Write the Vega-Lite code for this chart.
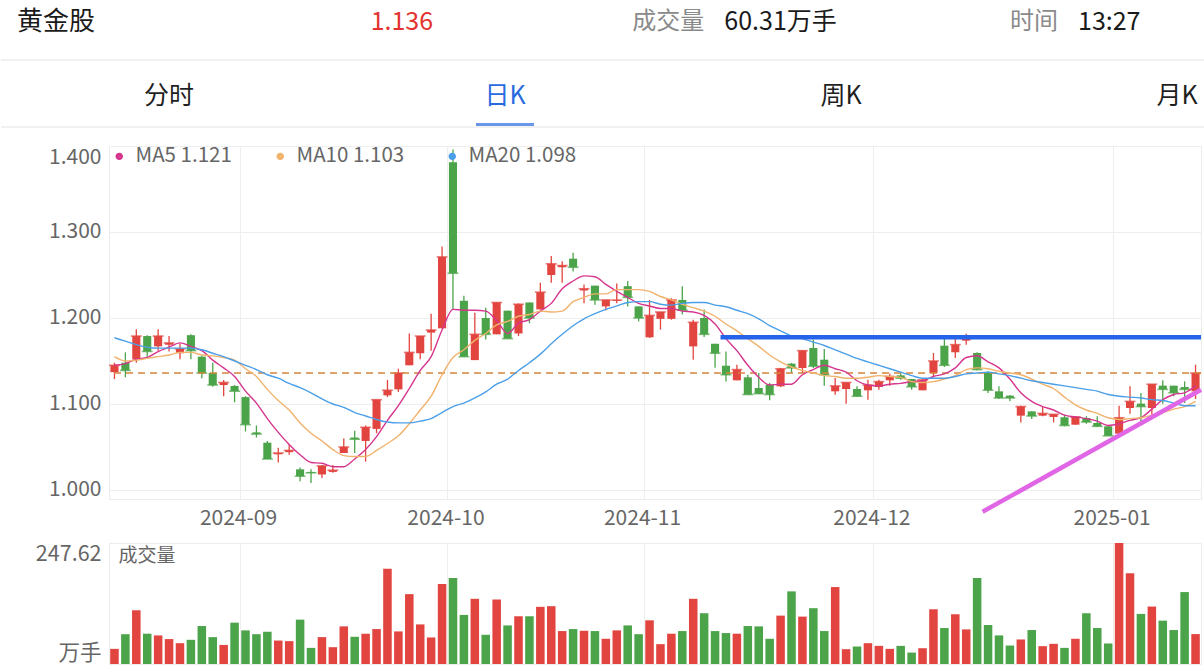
{
  "$schema": "https://vega.github.io/schema/vega-lite/v6.json",
  "padding": 0,
  "background": "white",
  "bounds": "flush",
  "spacing": 44,
  "config": {
    "font": "Noto Sans CJK SC",
    "view": {"stroke": "#ececec"}
  },
  "resolve": {"scale": {"x": "independent", "y": "independent", "color": "independent"}, "legend": {"color": "independent"}},
  "datasets": {
    "quote": [
      {"item": "name", "label": "", "value": "黄金股"},
      {"item": "price", "label": "", "value": "1.136"},
      {"item": "vol", "label": "成交量", "value": "60.31万手"},
      {"item": "time", "label": "时间", "value": "13:27"}
    ],
    "tabs": [{"tab": "分时"}, {"tab": "日K"}, {"tab": "周K"}, {"tab": "月K"}],
    "k": [
{"date":"2024-08-15","open":1.137,"high":1.148,"low":1.129,"close":1.145,"vol":31,"ma5":1.145,"ma10":1.155,"ma20":1.177},
{"date":"2024-08-16","open":1.148,"high":1.160,"low":1.131,"close":1.139,"vol":61,"ma5":1.147,"ma10":1.150,"ma20":1.173},
{"date":"2024-08-19","open":1.152,"high":1.187,"low":1.148,"close":1.179,"vol":110,"ma5":1.152,"ma10":1.151,"ma20":1.169},
{"date":"2024-08-20","open":1.179,"high":1.180,"low":1.155,"close":1.161,"vol":62,"ma5":1.154,"ma10":1.153,"ma20":1.166},
{"date":"2024-08-21","open":1.167,"high":1.187,"low":1.162,"close":1.179,"vol":58.5,"ma5":1.161,"ma10":1.155,"ma20":1.165},
{"date":"2024-08-22","open":1.169,"high":1.179,"low":1.161,"close":1.171,"vol":51,"ma5":1.166,"ma10":1.157,"ma20":1.165},
{"date":"2024-08-23","open":1.159,"high":1.170,"low":1.152,"close":1.164,"vol":42.6,"ma5":1.171,"ma10":1.160,"ma20":1.165},
{"date":"2024-08-26","open":1.180,"high":1.181,"low":1.152,"close":1.162,"vol":49.5,"ma5":1.167,"ma10":1.160,"ma20":1.165},
{"date":"2024-08-27","open":1.155,"high":1.156,"low":1.130,"close":1.136,"vol":77.7,"ma5":1.162,"ma10":1.157,"ma20":1.163},
{"date":"2024-08-28","open":1.136,"high":1.148,"low":1.120,"close":1.122,"vol":55,"ma5":1.151,"ma10":1.156,"ma20":1.159},
{"date":"2024-08-29","open":1.122,"high":1.128,"low":1.109,"close":1.125,"vol":39,"ma5":1.142,"ma10":1.154,"ma20":1.155},
{"date":"2024-08-30","open":1.121,"high":1.122,"low":1.102,"close":1.115,"vol":84.6,"ma5":1.132,"ma10":1.151,"ma20":1.150},
{"date":"2024-09-02","open":1.108,"high":1.109,"low":1.068,"close":1.076,"vol":68.8,"ma5":1.115,"ma10":1.141,"ma20":1.145},
{"date":"2024-09-03","open":1.067,"high":1.075,"low":1.061,"close":1.065,"vol":61,"ma5":1.101,"ma10":1.132,"ma20":1.140},
{"date":"2024-09-04","open":1.055,"high":1.057,"low":1.036,"close":1.036,"vol":66,"ma5":1.083,"ma10":1.117,"ma20":1.134},
{"date":"2024-09-05","open":1.0415,"high":1.049,"low":1.032,"close":1.043,"vol":48,"ma5":1.067,"ma10":1.104,"ma20":1.130},
{"date":"2024-09-06","open":1.044,"high":1.053,"low":1.041,"close":1.046,"vol":46.8,"ma5":1.053,"ma10":1.093,"ma20":1.124},
{"date":"2024-09-09","open":1.024,"high":1.026,"low":1.010,"close":1.016,"vol":90.8,"ma5":1.041,"ma10":1.078,"ma20":1.119},
{"date":"2024-09-10","open":1.021,"high":1.024,"low":1.008,"close":1.020,"vol":33,"ma5":1.032,"ma10":1.066,"ma20":1.113},
{"date":"2024-09-11","open":1.018,"high":1.029,"low":1.014,"close":1.028,"vol":55,"ma5":1.031,"ma10":1.057,"ma20":1.106},
{"date":"2024-09-12","open":1.021,"high":1.029,"low":1.020,"close":1.023,"vol":34.4,"ma5":1.027,"ma10":1.047,"ma20":1.100},
{"date":"2024-09-13","open":1.043,"high":1.060,"low":1.043,"close":1.050,"vol":77,"ma5":1.027,"ma10":1.040,"ma20":1.096},
{"date":"2024-09-18","open":1.061,"high":1.069,"low":1.043,"close":1.059,"vol":55.7,"ma5":1.036,"ma10":1.039,"ma20":1.090},
{"date":"2024-09-19","open":1.057,"high":1.075,"low":1.033,"close":1.073,"vol":62,"ma5":1.047,"ma10":1.039,"ma20":1.086},
{"date":"2024-09-20","open":1.071,"high":1.105,"low":1.066,"close":1.105,"vol":71.5,"ma5":1.062,"ma10":1.046,"ma20":1.082},
{"date":"2024-09-23","open":1.110,"high":1.128,"low":1.108,"close":1.116,"vol":194.7,"ma5":1.081,"ma10":1.054,"ma20":1.079},
{"date":"2024-09-24","open":1.117,"high":1.141,"low":1.114,"close":1.136,"vol":66.7,"ma5":1.098,"ma10":1.063,"ma20":1.078},
{"date":"2024-09-25","open":1.145,"high":1.182,"low":1.145,"close":1.160,"vol":143,"ma5":1.118,"ma10":1.077,"ma20":1.078},
{"date":"2024-09-26","open":1.159,"high":1.179,"low":1.152,"close":1.179,"vol":81,"ma5":1.139,"ma10":1.093,"ma20":1.080},
{"date":"2024-09-27","open":1.183,"high":1.205,"low":1.162,"close":1.186,"vol":54.3,"ma5":1.155,"ma10":1.109,"ma20":1.083},
{"date":"2024-09-30","open":1.188,"high":1.283,"low":1.188,"close":1.271,"vol":163.7,"ma5":1.186,"ma10":1.134,"ma20":1.090},
{"date":"2024-10-08","open":1.381,"high":1.396,"low":1.210,"close":1.252,"vol":176,"ma5":1.210,"ma10":1.154,"ma20":1.097},
{"date":"2024-10-09","open":1.220,"high":1.226,"low":1.155,"close":1.155,"vol":100.4,"ma5":1.209,"ma10":1.163,"ma20":1.101},
{"date":"2024-10-10","open":1.151,"high":1.206,"low":1.151,"close":1.181,"vol":133.4,"ma5":1.209,"ma10":1.174,"ma20":1.107},
{"date":"2024-10-11","open":1.200,"high":1.212,"low":1.175,"close":1.181,"vol":59.8,"ma5":1.208,"ma10":1.182,"ma20":1.114},
{"date":"2024-10-14","open":1.181,"high":1.218,"low":1.181,"close":1.218,"vol":132,"ma5":1.197,"ma10":1.192,"ma20":1.123},
{"date":"2024-10-15","open":1.2085,"high":1.2085,"low":1.176,"close":1.176,"vol":79,"ma5":1.182,"ma10":1.196,"ma20":1.129},
{"date":"2024-10-16","open":1.182,"high":1.217,"low":1.179,"close":1.216,"vol":97.7,"ma5":1.194,"ma10":1.202,"ma20":1.139},
{"date":"2024-10-17","open":1.218,"high":1.218,"low":1.194,"close":1.200,"vol":97.7,"ma5":1.198,"ma10":1.204,"ma20":1.148},
{"date":"2024-10-18","open":1.210,"high":1.241,"low":1.210,"close":1.230,"vol":117,"ma5":1.208,"ma10":1.208,"ma20":1.158},
{"date":"2024-10-21","open":1.250,"high":1.272,"low":1.241,"close":1.263,"vol":118.3,"ma5":1.217,"ma10":1.207,"ma20":1.170},
{"date":"2024-10-22","open":1.259,"high":1.266,"low":1.241,"close":1.261,"vol":67.4,"ma5":1.234,"ma10":1.208,"ma20":1.181},
{"date":"2024-10-23","open":1.269,"high":1.276,"low":1.254,"close":1.259,"vol":71.5,"ma5":1.243,"ma10":1.219,"ma20":1.191},
{"date":"2024-10-24","open":1.232,"high":1.239,"low":1.217,"close":1.234,"vol":68,"ma5":1.249,"ma10":1.224,"ma20":1.199},
{"date":"2024-10-25","open":1.2376,"high":1.2376,"low":1.2155,"close":1.221,"vol":67.4,"ma5":1.248,"ma10":1.228,"ma20":1.205},
{"date":"2024-10-28","open":1.2135,"high":1.2213,"low":1.2089,"close":1.221,"vol":51.6,"ma5":1.239,"ma10":1.228,"ma20":1.210},
{"date":"2024-10-29","open":1.220,"high":1.240,"low":1.217,"close":1.221,"vol":68.8,"ma5":1.231,"ma10":1.233,"ma20":1.214},
{"date":"2024-10-30","open":1.237,"high":1.243,"low":1.2135,"close":1.224,"vol":79,"ma5":1.224,"ma10":1.233,"ma20":1.218},
{"date":"2024-10-31","open":1.2135,"high":1.2135,"low":1.196,"close":1.200,"vol":61,"ma5":1.217,"ma10":1.233,"ma20":1.219},
{"date":"2024-11-01","open":1.1775,"high":1.221,"low":1.1767,"close":1.203,"vol":89.4,"ma5":1.214,"ma10":1.231,"ma20":1.219},
{"date":"2024-11-04","open":1.199,"high":1.207,"low":1.1864,"close":1.207,"vol":40.6,"ma5":1.211,"ma10":1.225,"ma20":1.216},
{"date":"2024-11-05","open":1.199,"high":1.223,"low":1.198,"close":1.221,"vol":62,"ma5":1.211,"ma10":1.221,"ma20":1.215},
{"date":"2024-11-06","open":1.221,"high":1.237,"low":1.204,"close":1.209,"vol":67.4,"ma5":1.208,"ma10":1.216,"ma20":1.217},
{"date":"2024-11-07","open":1.167,"high":1.198,"low":1.1515,"close":1.195,"vol":133.4,"ma5":1.207,"ma10":1.212,"ma20":1.218},
{"date":"2024-11-08","open":1.200,"high":1.210,"low":1.178,"close":1.181,"vol":103.9,"ma5":1.203,"ma10":1.208,"ma20":1.218},
{"date":"2024-11-11","open":1.170,"high":1.170,"low":1.142,"close":1.159,"vol":67.4,"ma5":1.193,"ma10":1.202,"ma20":1.215},
{"date":"2024-11-12","open":1.1445,"high":1.161,"low":1.126,"close":1.134,"vol":63.3,"ma5":1.176,"ma10":1.193,"ma20":1.213},
{"date":"2024-11-13","open":1.1275,"high":1.1457,"low":1.1275,"close":1.140,"vol":62,"ma5":1.162,"ma10":1.185,"ma20":1.209},
{"date":"2024-11-14","open":1.131,"high":1.134,"low":1.111,"close":1.111,"vol":77.7,"ma5":1.145,"ma10":1.176,"ma20":1.205},
{"date":"2024-11-15","open":1.1186,"high":1.136,"low":1.112,"close":1.112,"vol":77,"ma5":1.131,"ma10":1.167,"ma20":1.199},
{"date":"2024-11-18","open":1.1224,"high":1.1244,"low":1.1042,"close":1.111,"vol":51.6,"ma5":1.122,"ma10":1.157,"ma20":1.191},
{"date":"2024-11-19","open":1.1205,"high":1.1418,"low":1.1197,"close":1.141,"vol":99,"ma5":1.123,"ma10":1.149,"ma20":1.185},
{"date":"2024-11-20","open":1.1469,"high":1.1477,"low":1.136,"close":1.142,"vol":148.6,"ma5":1.123,"ma10":1.143,"ma20":1.179},
{"date":"2024-11-21","open":1.1418,"high":1.1624,"low":1.136,"close":1.162,"vol":97,"ma5":1.134,"ma10":1.139,"ma20":1.176},
{"date":"2024-11-22","open":1.1651,"high":1.1748,"low":1.1418,"close":1.144,"vol":114.2,"ma5":1.140,"ma10":1.136,"ma20":1.172},
{"date":"2024-11-25","open":1.1515,"high":1.1639,"low":1.1213,"close":1.134,"vol":67.4,"ma5":1.145,"ma10":1.133,"ma20":1.168},
{"date":"2024-11-26","open":1.1147,"high":1.1302,"low":1.1108,"close":1.121,"vol":157.5,"ma5":1.141,"ma10":1.132,"ma20":1.163},
{"date":"2024-11-27","open":1.1174,"high":1.125,"low":1.1004,"close":1.125,"vol":30.3,"ma5":1.137,"ma10":1.130,"ma20":1.158},
{"date":"2024-11-28","open":1.1174,"high":1.1205,"low":1.1081,"close":1.109,"vol":35.8,"ma5":1.127,"ma10":1.130,"ma20":1.153},
{"date":"2024-11-29","open":1.1159,"high":1.1283,"low":1.105,"close":1.122,"vol":42.6,"ma5":1.122,"ma10":1.131,"ma20":1.149},
{"date":"2024-12-02","open":1.1197,"high":1.1283,"low":1.1166,"close":1.126,"vol":37.1,"ma5":1.121,"ma10":1.133,"ma20":1.145},
{"date":"2024-12-03","open":1.1275,"high":1.1352,"low":1.1213,"close":1.132,"vol":31,"ma5":1.123,"ma10":1.132,"ma20":1.141},
{"date":"2024-12-04","open":1.1333,"high":1.136,"low":1.1283,"close":1.130,"vol":37.1,"ma5":1.124,"ma10":1.131,"ma20":1.137},
{"date":"2024-12-05","open":1.129,"high":1.129,"low":1.1166,"close":1.120,"vol":23.4,"ma5":1.126,"ma10":1.126,"ma20":1.133},
{"date":"2024-12-06","open":1.1159,"high":1.129,"low":1.1159,"close":1.128,"vol":32.3,"ma5":1.127,"ma10":1.125,"ma20":1.130},
{"date":"2024-12-09","open":1.136,"high":1.1593,"low":1.1314,"close":1.150,"vol":112,"ma5":1.132,"ma10":1.126,"ma20":1.130},
{"date":"2024-12-10","open":1.1678,"high":1.1756,"low":1.143,"close":1.145,"vol":73.6,"ma5":1.135,"ma10":1.129,"ma20":1.130},
{"date":"2024-12-11","open":1.1601,"high":1.1756,"low":1.1535,"close":1.169,"vol":101.8,"ma5":1.142,"ma10":1.133,"ma20":1.132},
{"date":"2024-12-12","open":1.1736,"high":1.1818,"low":1.169,"close":1.176,"vol":70.8,"ma5":1.154,"ma10":1.140,"ma20":1.135},
{"date":"2024-12-13","open":1.1593,"high":1.1601,"low":1.1391,"close":1.140,"vol":176,"ma5":1.156,"ma10":1.142,"ma20":1.136},
{"date":"2024-12-16","open":1.1368,"high":1.138,"low":1.1128,"close":1.116,"vol":79.8,"ma5":1.149,"ma10":1.141,"ma20":1.137},
{"date":"2024-12-17","open":1.1147,"high":1.1205,"low":1.1058,"close":1.107,"vol":58.5,"ma5":1.142,"ma10":1.138,"ma20":1.135},
{"date":"2024-12-18","open":1.1097,"high":1.1104,"low":1.1031,"close":1.107,"vol":37.8,"ma5":1.129,"ma10":1.136,"ma20":1.133},
{"date":"2024-12-19","open":1.0864,"high":1.098,"low":1.0786,"close":1.097,"vol":50.2,"ma5":1.113,"ma10":1.134,"ma20":1.130},
{"date":"2024-12-20","open":1.0914,"high":1.0914,"low":1.0825,"close":1.086,"vol":69.5,"ma5":1.103,"ma10":1.129,"ma20":1.127},
{"date":"2024-12-23","open":1.0864,"high":1.0965,"low":1.0856,"close":1.089,"vol":36.5,"ma5":1.097,"ma10":1.123,"ma20":1.125},
{"date":"2024-12-24","open":1.0849,"high":1.0876,"low":1.0786,"close":1.088,"vol":41.3,"ma5":1.093,"ma10":1.118,"ma20":1.123},
{"date":"2024-12-25","open":1.0845,"high":1.0876,"low":1.074,"close":1.075,"vol":33,"ma5":1.087,"ma10":1.108,"ma20":1.121},
{"date":"2024-12-26","open":1.0759,"high":1.0856,"low":1.0759,"close":1.085,"vol":51.6,"ma5":1.085,"ma10":1.099,"ma20":1.119},
{"date":"2024-12-27","open":1.0837,"high":1.0856,"low":1.0771,"close":1.079,"vol":103.9,"ma5":1.083,"ma10":1.093,"ma20":1.117},
{"date":"2024-12-30","open":1.0779,"high":1.0856,"low":1.0732,"close":1.074,"vol":73.6,"ma5":1.080,"ma10":1.089,"ma20":1.115},
{"date":"2024-12-31","open":1.074,"high":1.0748,"low":1.063,"close":1.063,"vol":42,"ma5":1.075,"ma10":1.084,"ma20":1.111},
{"date":"2025-01-02","open":1.0655,"high":1.098,"low":1.0655,"close":1.084,"vol":247.62,"ma5":1.077,"ma10":1.082,"ma20":1.109},
{"date":"2025-01-03","open":1.0953,"high":1.1205,"low":1.0887,"close":1.103,"vol":185.7,"ma5":1.081,"ma10":1.083,"ma20":1.108},
{"date":"2025-01-06","open":1.1004,"high":1.1128,"low":1.0798,"close":1.097,"vol":102.5,"ma5":1.084,"ma10":1.084,"ma20":1.107},
{"date":"2025-01-07","open":1.0953,"high":1.123,"low":1.0876,"close":1.123,"vol":117.6,"ma5":1.094,"ma10":1.087,"ma20":1.105},
{"date":"2025-01-08","open":1.1213,"high":1.1275,"low":1.1004,"close":1.117,"vol":88.7,"ma5":1.105,"ma10":1.090,"ma20":1.104},
{"date":"2025-01-09","open":1.1213,"high":1.1213,"low":1.1089,"close":1.113,"vol":69.5,"ma5":1.111,"ma10":1.094,"ma20":1.101},
{"date":"2025-01-10","open":1.1197,"high":1.1263,"low":1.1011,"close":1.117,"vol":147.2,"ma5":1.113,"ma10":1.097,"ma20":1.098},
{"date":"2025-01-13","open":1.1147,"high":1.1457,"low":1.1058,"close":1.136,"vol":61.2,"ma5":1.121,"ma10":1.103,"ma20":1.098}
    ]
  },
  "vconcat": [
    {
      "width": 1092,
      "height": 102,
      "view": {"stroke": null},
      "resolve": {"scale": {"x": "independent"}},
      "layer": [
        {
          "data": {"values": [{}]},
          "mark": {"type": "rule", "color": "#ededed", "strokeWidth": 1.5},
          "encoding": {
            "x": {"datum": 0, "type": "quantitative", "scale": {"domain": [0, 1], "range": [-108, 1096]}, "axis": null},
            "x2": {"datum": 1},
            "y": {"datum": "quote", "type": "nominal", "bandPosition": 1, "scale": {"type": "band", "domain": ["quote", "tabs"], "range": [-7, 127], "paddingInner": 0, "paddingOuter": 0}, "axis": null}
          }
        },
        {
          "data": {"values": [{}]},
          "mark": {"type": "rule", "color": "#ededed", "strokeWidth": 1.5},
          "encoding": {
            "x": {"datum": 0, "type": "quantitative", "scale": {"domain": [0, 1], "range": [-108, 1096]}, "axis": null},
            "x2": {"datum": 1},
            "y": {"datum": "tabs", "type": "nominal", "bandPosition": 1}
          }
        },
        {
          "data": {"name": "quote"},
          "mark": {"type": "text", "align": "left", "baseline": "middle", "dx": 10, "fontSize": 25},
          "encoding": {
            "x": {"field": "item", "type": "nominal", "sort": null, "scale": {"type": "point", "padding": 0, "domain": ["name", "price", "vol", "time"], "range": [-102, 959]}, "axis": null},
            "y": {"datum": "quote", "type": "nominal", "bandPosition": 0.433},
            "text": {"field": "value"},
            "size": {"condition": {"test": "datum.item === 'name'", "value": 26}, "value": 25},
            "color": {"condition": {"test": "datum.item === 'price'", "value": "#e3322f"}, "value": "#1a1a1a"}
          }
        },
        {
          "data": {"name": "quote"},
          "transform": [{"filter": "datum.label !== ''"}],
          "mark": {"type": "text", "align": "right", "baseline": "middle", "dx": -10, "fontSize": 24},
          "encoding": {
            "x": {"field": "item", "type": "nominal", "sort": null, "scale": {"type": "point", "padding": 0, "domain": ["name", "price", "vol", "time"], "range": [-102, 959]}, "axis": null},
            "y": {"datum": "quote", "type": "nominal", "bandPosition": 0.433},
            "text": {"field": "label"},
            "color": {"value": "#8a8a8a"}
          }
        },
        {
          "data": {"name": "tabs"},
          "mark": {"type": "text", "align": "center", "baseline": "middle", "fontSize": 25},
          "encoding": {
            "x": {"field": "tab", "type": "nominal", "sort": null, "scale": {"type": "point", "padding": 0, "domain": ["分时", "日K", "周K", "月K"], "range": [60, 1068]}, "axis": null},
            "y": {"datum": "tabs", "type": "nominal", "bandPosition": 0.537},
            "text": {"field": "tab"},
            "color": {"condition": {"test": "datum.tab === '日K'", "value": "#2a6ae0"}, "value": "#1f1f1f"}
          }
        },
        {
          "data": {"name": "tabs"},
          "transform": [{"filter": "datum.tab === '日K'"}],
          "mark": {"type": "tick", "orient": "horizontal", "size": 58, "thickness": 3, "color": "#2a6ae0"},
          "encoding": {
            "x": {"field": "tab", "type": "nominal", "sort": null, "scale": {"type": "point", "padding": 0, "domain": ["分时", "日K", "周K", "月K"], "range": [60, 1068]}, "axis": null},
            "y": {"datum": "tabs", "type": "nominal", "bandPosition": 0.963}
          }
        }
      ]
    },
    {
      "width": 1092,
      "height": 353,
      "data": {"name": "k"},
      "layer": [
        {
          "mark": {"type": "rule", "strokeWidth": 1.3},
          "encoding": {
            "x": {
              "field": "date", "type": "ordinal",
              "scale": {"type": "band", "paddingInner": 0, "paddingOuter": 0},
              "axis": {
                "values": ["2024-09-02", "2024-10-08", "2024-11-01", "2024-12-02", "2025-01-02"],
                "bandPosition": 0,
                "labelExpr": "slice(datum.value, 0, 7)",
                "title": null, "grid": true, "gridColor": "#eeeeee", "ticks": false, "domain": false,
                "labelAngle": 0, "labelFontSize": 21, "labelColor": "#666666", "labelPadding": 8, "labelFlush": false,
                "labelOffset": -7
              }
            },
            "y": {
              "field": "low", "type": "quantitative",
              "scale": {"domain": [0.9895, 1.4], "nice": false, "zero": false},
              "axis": {
                "values": [1.0, 1.1, 1.2, 1.3, 1.4], "format": ".3f", "title": null,
                "grid": true, "gridColor": "#eeeeee", "ticks": false, "domain": false,
                "labelFontSize": 21, "labelColor": "#666666", "labelPadding": 8, "labelFlush": 3
              }
            },
            "y2": {"field": "high"},
            "color": {"condition": {"test": "datum.close >= datum.open", "value": "#e2443f"}, "value": "#4ba449"}
          }
        },
        {
          "mark": {"type": "bar", "width": {"band": 0.74}},
          "encoding": {
            "x": {"field": "date", "type": "ordinal"},
            "y": {"field": "open", "type": "quantitative"},
            "y2": {"field": "close"},
            "color": {"condition": {"test": "datum.close >= datum.open", "value": "#e2443f"}, "value": "#4ba449"}
          }
        },
        {
          "mark": {"type": "tick", "orient": "horizontal", "thickness": 1.6},
          "encoding": {
            "x": {"field": "date", "type": "ordinal"},
            "y": {"field": "close", "type": "quantitative"},
            "color": {"condition": {"test": "datum.close >= datum.open", "value": "#e2443f"}, "value": "#4ba449"}
          }
        },
        {
          "data": {"values": [{}]},
          "mark": {"type": "rule", "strokeDash": [7, 5], "color": "#d5843a", "strokeWidth": 1.5},
          "encoding": {"y": {"datum": 1.136, "type": "quantitative"}}
        },
        {
          "transform": [{"fold": ["ma5", "ma10", "ma20"], "as": ["ma", "value"]}],
          "mark": {"type": "line", "strokeWidth": 1.4, "interpolate": "monotone"},
          "encoding": {
            "x": {"field": "date", "type": "ordinal"},
            "y": {"field": "value", "type": "quantitative"},
            "color": {
              "field": "ma", "type": "nominal",
              "scale": {"domain": ["ma5", "ma10", "ma20"], "range": ["#d6358e", "#f1b26c", "#4b9fe8"]},
              "legend": {
                "title": null, "orient": "top-left", "direction": "horizontal", "offset": 0, "padding": 0,
                "symbolType": "circle", "symbolSize": 12, "symbolStrokeWidth": 4,
                "labelFontSize": 20.5, "labelColor": "#666666", "labelOffset": 6, "columnPadding": 33, "labelLimit": 300,
                "labelExpr": "datum.value === 'ma5' ? 'MA5  1.121' : datum.value === 'ma10' ? 'MA10  1.103' : 'MA20  1.098'",
                "encode": {"symbols": {"update": {"strokeWidth": {"value": 4}, "shape": {"value": "circle"}, "size": {"value": 12}}}}
              }
            }
          }
        },
        {
          "data": {"values": [{"date": "2024-11-11", "price": 1.1775}, {"date": "2025-01-13", "price": 1.1775}]},
          "mark": {"type": "line", "color": "#2563eb", "strokeWidth": 4.5},
          "encoding": {
            "x": {"field": "date", "type": "ordinal", "bandPosition": 1},
            "y": {"field": "price", "type": "quantitative"}
          }
        },
        {
          "data": {"values": [{"date": "2024-12-13", "price": 0.9747}, {"date": "2025-01-13", "price": 1.1165}]},
          "mark": {"type": "line", "color": "#e066e6", "strokeWidth": 4.5},
          "encoding": {
            "x": {"field": "date", "type": "ordinal", "bandPosition": 1},
            "y": {"field": "price", "type": "quantitative"}
          }
        }
      ]
    },
    {
      "width": 1092,
      "height": 121,
      "data": {"name": "k"},
      "layer": [
        {
          "mark": {"type": "bar", "width": {"band": 0.78}},
          "encoding": {
            "x": {
              "field": "date", "type": "ordinal",
              "scale": {"type": "band", "paddingInner": 0, "paddingOuter": 0},
              "axis": {
                "values": ["2024-09-02", "2024-10-08", "2024-11-01", "2024-12-02", "2025-01-02"],
                "bandPosition": 0, "labels": false, "ticks": false, "domain": false,
                "grid": true, "gridColor": "#eeeeee", "title": null
              }
            },
            "y": {
              "field": "vol", "type": "quantitative",
              "scale": {"domain": [0, 247.62], "nice": false},
              "axis": {
                "values": [0, 247.62], "labelExpr": "datum.value > 1 ? '247.62' : '万手'",
                "labelFlush": true, "grid": false, "ticks": false, "domain": false, "title": null,
                "labelFontSize": 21.5, "labelColor": "#666666", "labelPadding": 8
              }
            },
            "color": {"condition": {"test": "datum.close >= datum.open", "value": "#e2443f"}, "value": "#4ba449"}
          }
        },
        {
          "data": {"values": [{}]},
          "mark": {"type": "text", "align": "left", "baseline": "top", "dx": 4, "dy": 4, "fontSize": 19, "color": "#666666"},
          "encoding": {
            "x": {"datum": "2024-08-15", "type": "ordinal"},
            "y": {"datum": 247.62, "type": "quantitative"},
            "text": {"value": "成交量"}
          }
        }
      ]
    }
  ]
}
